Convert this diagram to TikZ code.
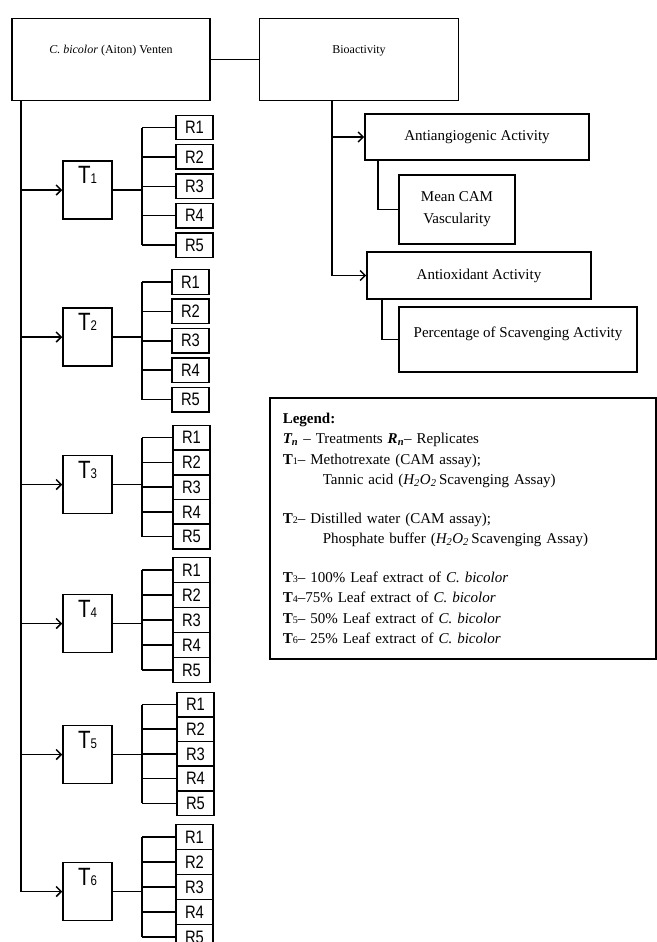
\documentclass[tikz,border=0pt]{standalone}
\usepackage{fontspec}
\setmainfont{Liberation Serif}
\newfontfamily\arialn[FakeStretch=0.82]{Liberation Sans}
\usetikzlibrary{arrows.meta}
\newcommand{\tdig}[1]{{\fontsize{14}{14}\selectfont #1}}
\newcommand{\ldig}[1]{{\fontsize{10}{10}\selectfont #1}}
\newcommand{\hoo}{\textit{H\textsubscript{2}O\textsubscript{2}}}
\tikzset{
  conn/.style={black,line width=1.5pt},
  arr/.style={conn,-{Straight Barb[length=5pt,width=10pt]}},
  box/.style={draw,black,line width=1.6pt,inner sep=0pt,align=center,font=\fontsize{15}{22}\selectfont},
  tbox/.style={draw,black,line width=1.5pt,minimum width=49pt,minimum height=58pt,inner sep=0pt},
  rbox/.style={draw,black,line width=1.4pt,minimum width=37pt,minimum height=24.5pt,inner sep=0pt,font=\arialn\fontsize{18}{18}\selectfont},
  tlab/.style={inner sep=0pt,font=\arialn\fontsize{25}{25}\selectfont},
}
\begin{document}
\begin{tikzpicture}[x=1pt,y=-1pt]
\useasboundingbox (0,0) rectangle (656,942);
% plant and bioactivity
\node[box,minimum width=198pt,minimum height=82pt,text height=8pt,text depth=20pt,font=\fontsize{12}{14}\selectfont] (cb) at (111,59.5) {\textit{C. bicolor} (Aiton) Venten};
\node[box,minimum width=199pt,minimum height=82pt,text height=8pt,text depth=20pt,font=\fontsize{12}{14}\selectfont] (bio) at (359,59.5) {Bioactivity};
\draw [conn] (cb.east) -- (bio.west);
% assays
\node[box,minimum width=224pt,minimum height=46pt] (aag) at (477,137) {Antiangiogenic Activity};
\node[box,minimum width=116pt,minimum height=69pt] (mcv) at (457,209.5) {Mean CAM\\Vascularity};
\node[box,minimum width=224pt,minimum height=47pt] (aox) at (479,275.5) {Antioxidant Activity};
\node[box,minimum width=238pt,minimum height=65pt,text height=10pt,text depth=14pt] (psa) at (518,339.5) {Percentage of Scavenging Activity};
\coordinate (bsp) at (332,101);
\draw [conn] (bsp) -- (bsp |- aox.west);
\draw [arr] (bsp |- aag.west) -- (aag.west);
\draw [arr] (bsp |- aox.west) -- (aox.west);
\draw [conn] ([xshift=14pt]aag.south west) |- (mcv.west);
\draw [conn] ([xshift=16pt]aox.south west) |- (psa.west);
% treatments and replicates
\coordinate (sp) at ([xshift=10pt]cb.south west);
\foreach \i/\ty/\ry/\rs/\rx in {1/190/127.5/29.4/176, 2/337/282/29.4/172, 3/484.5/437.5/24.8/173, 4/623.5/570/25/173, 5/754.5/704.5/24.7/177, 6/891.5/837/25/176}{
  \node[tbox] (t\i) at (87.5,\ty) {};
  \node[tlab] (tl\i) at ([yshift=-15pt]t\i.north) {T\tdig{\i}};
  \draw [arr] (sp |- t\i.west) -- (t\i.west);
  \coordinate (b\i) at (142,\ty);
  \foreach \j in {1,...,5}{
    \node[rbox] (r\i\j) at ({\rx+18.5},{\ry+(\j-1)*\rs}) {R\j};
    \draw [conn] (b\i |- r\i\j.west) -- (r\i\j.west);
  }
  \draw [conn] (t\i.east) -- (b\i);
  \draw [conn] (b\i |- r\i1.west) -- (b\i |- r\i5.west);
}
\draw [conn] (sp) -- (sp |- t6.west);
% legend
\node[draw,black,line width=1.6pt,anchor=north west,minimum width=386pt,minimum height=261pt,text width=360pt,inner xsep=13pt,inner ysep=0pt,align=left,font=\fontsize{15}{20.5}\selectfont] (leg) at (269,397) {%
\textbf{Legend:}\\
\textbf{\textit{T\textsubscript{n}}} -- Treatments \textbf{\textit{R\textsubscript{n}}}-- Replicates\\
\textbf{T}\ldig{1}-- Methotrexate (CAM assay);\\
\hspace*{40pt}Tannic acid (\hoo\,Scavenging Assay)\\[18pt]
\textbf{T}\ldig{2}-- Distilled water (CAM assay);\\
\hspace*{40pt}Phosphate buffer (\hoo\,Scavenging Assay)\\[18pt]
\textbf{T}\ldig{3}-- 100\% Leaf extract of \textit{C. bicolor}\\
\textbf{T}\ldig{4}--75\% Leaf extract of \textit{C. bicolor}\\
\textbf{T}\ldig{5}-- 50\% Leaf extract of \textit{C. bicolor}\\
\textbf{T}\ldig{6}-- 25\% Leaf extract of \textit{C. bicolor}};
\end{tikzpicture}
\end{document}
